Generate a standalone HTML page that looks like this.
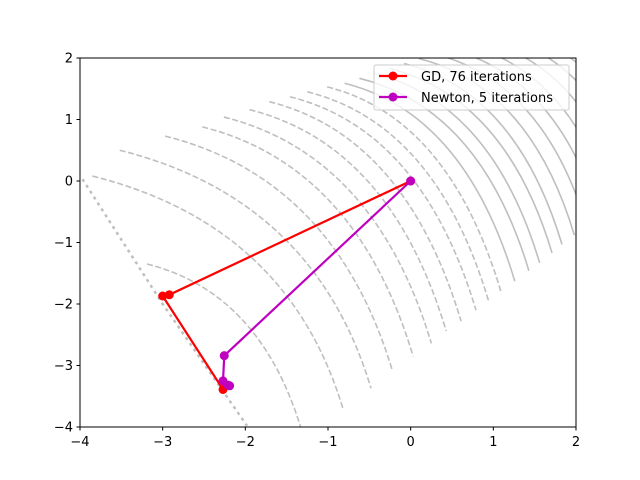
<!DOCTYPE html>
<html><head><meta charset="utf-8"><style>
body{margin:0;background:#fff}
svg{display:block;font-family:"DejaVu Sans","Liberation Sans",sans-serif}
</style></head><body>
<svg width="640" height="480" viewBox="0 0 640 480" id="chart">
<defs><clipPath id="clip"><rect x="80" y="58" width="496" height="369"/></clipPath></defs>
<rect x="0" y="0" width="640" height="480" fill="#fff"/>
<g id="contours" clip-path="url(#clip)"></g>
<g id="paths" clip-path="url(#clip)"></g>
<rect x="80" y="58" width="496" height="369" fill="none" stroke="#000" stroke-width="1"/>
<g id="axes"></g>
<g>
<rect x="374" y="65" width="195" height="45" rx="2" fill="#fff" fill-opacity="0.8" stroke="#ccc"/>
<line x1="379" y1="76" x2="407" y2="76" stroke="#f00" stroke-width="2.2"/>
<circle cx="393" cy="76" r="4.5" fill="#f00"/>
<text x="421" y="81" font-size="13">GD, 76 iterations</text>
<line x1="379" y1="97" x2="407" y2="97" stroke="#bf00bf" stroke-width="2.2"/>
<circle cx="393" cy="97" r="4.5" fill="#bf00bf"/>
<text x="421" y="102" font-size="13">Newton, 5 iterations</text>
</g>
</svg>
<script>
const xTicks=[-4,-3,-2,-1,0,1,2];
const yTicks=[-4,-3,-2,-1,0,1,2];
const gdX=[0,-2.92,-3.0,-2.27];
const gdY=[0,-1.85,-1.87,-3.39];
const newtonX=[0,-2.255,-2.27,-2.19,-2.21];
const newtonY=[0,-2.84,-3.25,-3.33,-3.32];
// contour arcs: start/end in data coords, dashed = negative level
const arcStartX=[-3.19,-3.85,-3.52,-2.97,-2.52,-2.26,-1.95,-1.71,-1.46,-1.25,-1.01,-0.80,-0.62,-0.44,-0.26,-0.08,0.10,0.28,0.46,0.64,0.82,1.00,1.18,1.36,1.54,1.72];
const arcStartY=[-1.35,0.08,0.50,0.73,0.88,1.04,1.16,1.29,1.37,1.45,1.53,1.59,1.67,1.75,1.83,1.91,1.99,2.07,2.15,2.23,2.31,2.39,2.47,2.55,2.63,2.71];
const arcEndX=[-1.32,-0.82,-0.48,-0.22,0.03,0.25,0.43,0.61,0.79,0.94,1.09,1.26,1.43,1.56,1.71,1.83,1.98,2.13,2.28,2.43,2.58,2.73,2.88,3.03,3.18,3.33];
const arcEndY=[-4.05,-3.70,-3.37,-3.09,-2.85,-2.64,-2.44,-2.28,-2.10,-1.94,-1.79,-1.63,-1.46,-1.33,-1.17,-1.03,-0.88,-0.73,-0.58,-0.43,-0.28,-0.13,0.02,0.17,0.32,0.47];
const arcDashed=[1,1,1,1,1,1,1,1,1,1,1,0,0,0,0,0,0,0,0,0,0,0,0,0,0,0];
const valleyX=[-3.97,-3.0,-1.98];
const valleyY=[0.03,-2.0,-3.98];

const NS='http://www.w3.org/2000/svg';
const sx=v=>80+(v+4)*496/6;
const sy=v=>58+(2-v)*369/6;
function mk(tag,parent,attrs){const e=document.createElementNS(NS,tag);for(const k in attrs)e.setAttribute(k,attrs[k]);parent.appendChild(e);return e;}

const cg=document.getElementById('contours');
for(let i=0;i<arcStartX.length;i++){
  const x0=sx(arcStartX[i]),y0=sy(arcStartY[i]),x1=sx(arcEndX[i]),y1=sy(arcEndY[i]);
  const a1=1,b1=0.25,a2=0.3,b2=1;
  const det=a1*(-b2)-(-a2)*b1;
  const rx=x1-x0,ry=y1-y0;
  const u=(rx*(-b2)-(-a2)*ry)/det;
  const cx=x0+u*a1,cy=y0+u*b1;
  const p=mk('path',cg,{d:`M${x0},${y0} Q${cx},${cy} ${x1},${y1}`,fill:'none',stroke:'#bfbfbf','stroke-width':1.6});
  if(arcDashed[i])p.setAttribute('stroke-dasharray','6,2.6');
  
  
}
const vp=mk('polyline',cg,{points:valleyX.map((v,i)=>sx(v)+','+sy(valleyY[i])).join(' '),fill:'none',stroke:'#bfbfbf','stroke-width':2.5,'stroke-dasharray':'3,4'});



const pg=document.getElementById('paths');
function series(xs,ys,color,name){
  const g=mk('g',pg,{});
  
  
  mk('polyline',g,{points:xs.map((v,i)=>sx(v)+','+sy(ys[i])).join(' '),fill:'none',stroke:color,'stroke-width':2.2});
  xs.forEach((v,i)=>{const c=mk('circle',g,{cx:sx(v),cy:sy(ys[i]),r:4.5,fill:color});
    
    });
}
series(gdX,gdY,'#ff0000','gd-path');
series(newtonX,newtonY,'#bf00bf','newton-path');

const ag=document.getElementById('axes');
xTicks.forEach(t=>{const x=sx(t);
  mk('line',ag,{x1:x,y1:427,x2:x,y2:430.5,stroke:'#000'});
  const tx=mk('text',ag,{x:x,y:446,'font-size':13,'text-anchor':'middle'});
  tx.textContent=(t<0?'\u2212'+(-t):t);
  
  });
yTicks.forEach(t=>{const y=sy(t);
  mk('line',ag,{x1:76.5,y1:y,x2:80,y2:y,stroke:'#000'});
  const tx=mk('text',ag,{x:73,y:y+4.5,'font-size':13,'text-anchor':'end'});
  tx.textContent=(t<0?'\u2212'+(-t):t);
  
  });
</script>
</body></html>
